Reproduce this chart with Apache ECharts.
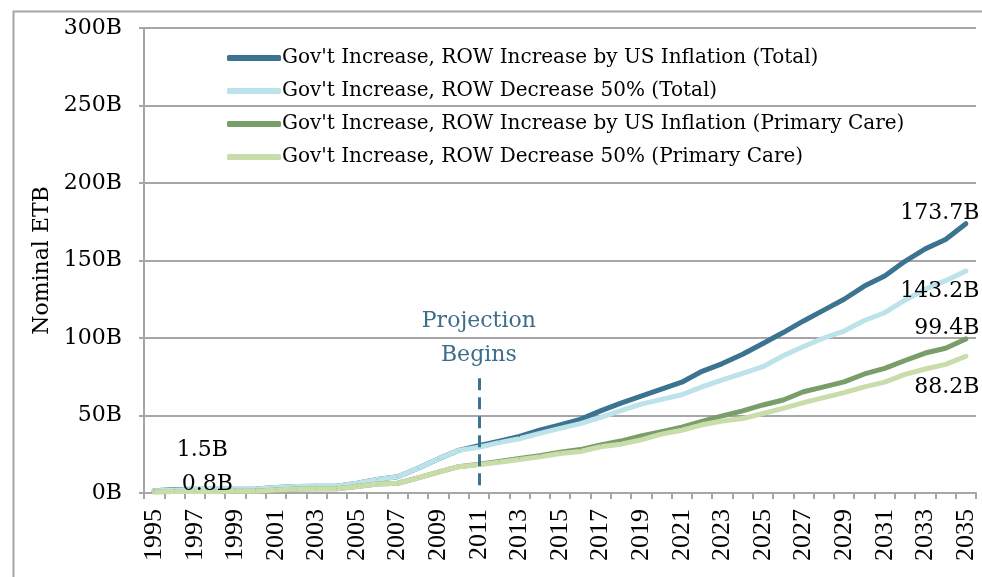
<!DOCTYPE html>
<html><head><meta charset="utf-8">
<script src="https://cdn.jsdelivr.net/npm/echarts@6/dist/echarts.min.js"></script>
<style>html,body{margin:0;padding:0;background:#fff}#c{width:982px;height:577px}</style>
</head><body><div id="c"></div>
<script>
const years = ['1995','1996','1997','1998','1999','2000','2001','2002','2003','2004','2005','2006','2007','2008','2009','2010','2011','2012','2013','2014','2015','2016','2017','2018','2019','2020','2021','2022','2023','2024','2025','2026','2027','2028','2029','2030','2031','2032','2033','2034','2035'];
const totalInflation = [1.5,2.2,2.5,2.5,2.5,2.6,3.6,4.2,4.3,4.4,6.3,8.8,10.5,16,22,27.5,30.5,33.5,36.5,40.5,44,47.5,53,58,62.5,67,71.5,78.5,83.5,89.5,96.5,103.5,111,118,125,133.5,140,149.5,157.5,163.5,173.7];
const totalDecrease = [1.5,2.0,2.2,2.4,2.5,2.6,3.6,4.2,4.3,4.4,6.3,8.8,10.5,16,22,27.5,29.5,32.5,35,38.5,41.7,44.8,48.8,53.2,57.3,60.4,63.4,68.5,73,77.2,81.5,88.5,94.5,100,104.5,111.3,116.3,124.4,131.5,137,143.2];
const primaryInflation = [0.8,0.9,1.0,1.0,1.1,1.2,2.0,2.6,2.7,2.8,4.2,5.8,6.3,9.8,13.5,17,18.5,20.3,22.2,24,26.3,28,31,33.5,36.8,39.5,42.5,46.2,49.8,53,56.8,60,65.3,68.5,71.7,76.8,80.4,85.5,90.3,93.4,99.4];
const primaryDecrease = [0.8,0.9,1.0,1.0,1.1,1.2,2.0,2.6,2.7,2.8,4.2,5.8,6.3,9.8,13.5,17,18.3,19.8,21.6,23.3,25.5,26.8,29.8,31.5,34.3,38,40.5,44,46.5,48,51.3,54.6,58.3,61.5,64.8,68.5,71.5,76.5,80,83,88.2];
const seriesNames = [
  "Gov't Increase, ROW Increase by US Inflation (Total)",
  "Gov't Increase, ROW Decrease 50% (Total)",
  "Gov't Increase, ROW Increase by US Inflation (Primary Care)",
  "Gov't Increase, ROW Decrease 50% (Primary Care)"
];
const seriesColors = ['#3b7390', '#bce2ea', '#7a9e6a', '#c9ddab'];
const projectionYear = '2011';
const projectionText = 'Projection\nBegins';
const yAxisName = 'Nominal ETB';

const FONT = 'DejaVu Serif';
const last = years.length - 1;

function withLabels(arr, labels) {
  return arr.map((v, i) => labels[i] ? { value: v, label: Object.assign({ show: true, formatter: '{c}B', color: '#000', fontFamily: FONT, fontSize: 22, verticalAlign: 'middle' }, labels[i]) } : v);
}

const chart = echarts.init(document.getElementById('c'), null, { renderer: 'canvas' });

const base = (name, color, data, extra) => Object.assign({
  name, type: 'line', data, showSymbol: true, showAllSymbol: true, symbol: 'circle', symbolSize: 1, smooth: false,
  lineStyle: { color, width: 5, cap: 'round', join: 'round' },
  itemStyle: { color },
  label: { show: false },
  labelLayout: { hideOverlap: false },
  emphasis: { disabled: true },
  animation: false
}, extra || {});

chart.setOption({
  animation: false,
  backgroundColor: '#fff',
  textStyle: { fontFamily: FONT },
  graphic: [{
    type: 'rect', left: 11, top: 9, z: -10, silent: true,
    shape: { width: 1000, height: 600 },
    style: { fill: 'none', stroke: '#a6a6a6', lineWidth: 2 }
  }],
  grid: { left: 144, right: 6, top: 28, bottom: 84, containLabel: false },
  legend: {
    orient: 'vertical', left: 222, top: 42,
    itemWidth: 54, itemHeight: 6, itemGap: 11, icon: 'roundRect',
    textStyle: { fontFamily: FONT, fontSize: 20, color: '#000', lineHeight: 22, padding: [0, 0, 0, -4] },
    data: seriesNames.map((n, i) => ({ name: n, itemStyle: { color: seriesColors[i] } }))
  },
  xAxis: {
    type: 'category', data: years, boundaryGap: true,
    axisLine: { lineStyle: { color: '#a6a6a6', width: 2 } },
    axisTick: { show: true, interval: 0, length: 6, lineStyle: { color: '#a6a6a6', width: 2 } },
    axisLabel: { interval: 1, rotate: 90, margin: 16, color: '#000', fontFamily: 'Liberation Serif', fontSize: 26, padding: [12, 0, 0, 0] },
    splitLine: { show: false }
  },
  yAxis: {
    type: 'value', min: 0, max: 300, interval: 50,
    name: yAxisName, nameLocation: 'middle', nameGap: 90,
    nameTextStyle: { fontFamily: FONT, fontSize: 22, color: '#000' },
    axisLine: { show: true, lineStyle: { color: '#a6a6a6', width: 2 } },
    axisTick: { show: true, length: 5, lineStyle: { color: '#a6a6a6', width: 2 } },
    axisLabel: { formatter: '{value}B', margin: 22, color: '#000', fontFamily: FONT, fontSize: 22 },
    splitLine: { lineStyle: { color: '#a6a6a6', width: 2 } }
  },
  series: [
    base(seriesNames[0], seriesColors[0], withLabels(totalInflation, {
      0: { position: [23, -40], align: 'left' },
      [last]: { position: [14, -10], align: 'right' }
    }), {
      markLine: {
        silent: true, symbol: 'none', animation: false,
        lineStyle: { color: '#3b7390', type: [12, 7], width: 3 },
        label: { show: true, position: 'end', formatter: projectionText, color: '#3b6e88', fontFamily: FONT, fontSize: 22, lineHeight: 34, distance: 4 },
        data: [[{ coord: [projectionYear, 5] }, { coord: [projectionYear, 75] }]]
      }
    }),
    base(seriesNames[1], seriesColors[1], withLabels(totalDecrease, {
      [last]: { position: [14, 21], align: 'right' }
    })),
    base(seriesNames[2], seriesColors[2], withLabels(primaryInflation, {
      0: { position: [28, -7], align: 'left' },
      [last]: { position: [14, -10], align: 'right' }
    })),
    base(seriesNames[3], seriesColors[3], withLabels(primaryDecrease, {
      [last]: { position: [14, 31], align: 'right' }
    }))
  ]
});
</script></body></html>
